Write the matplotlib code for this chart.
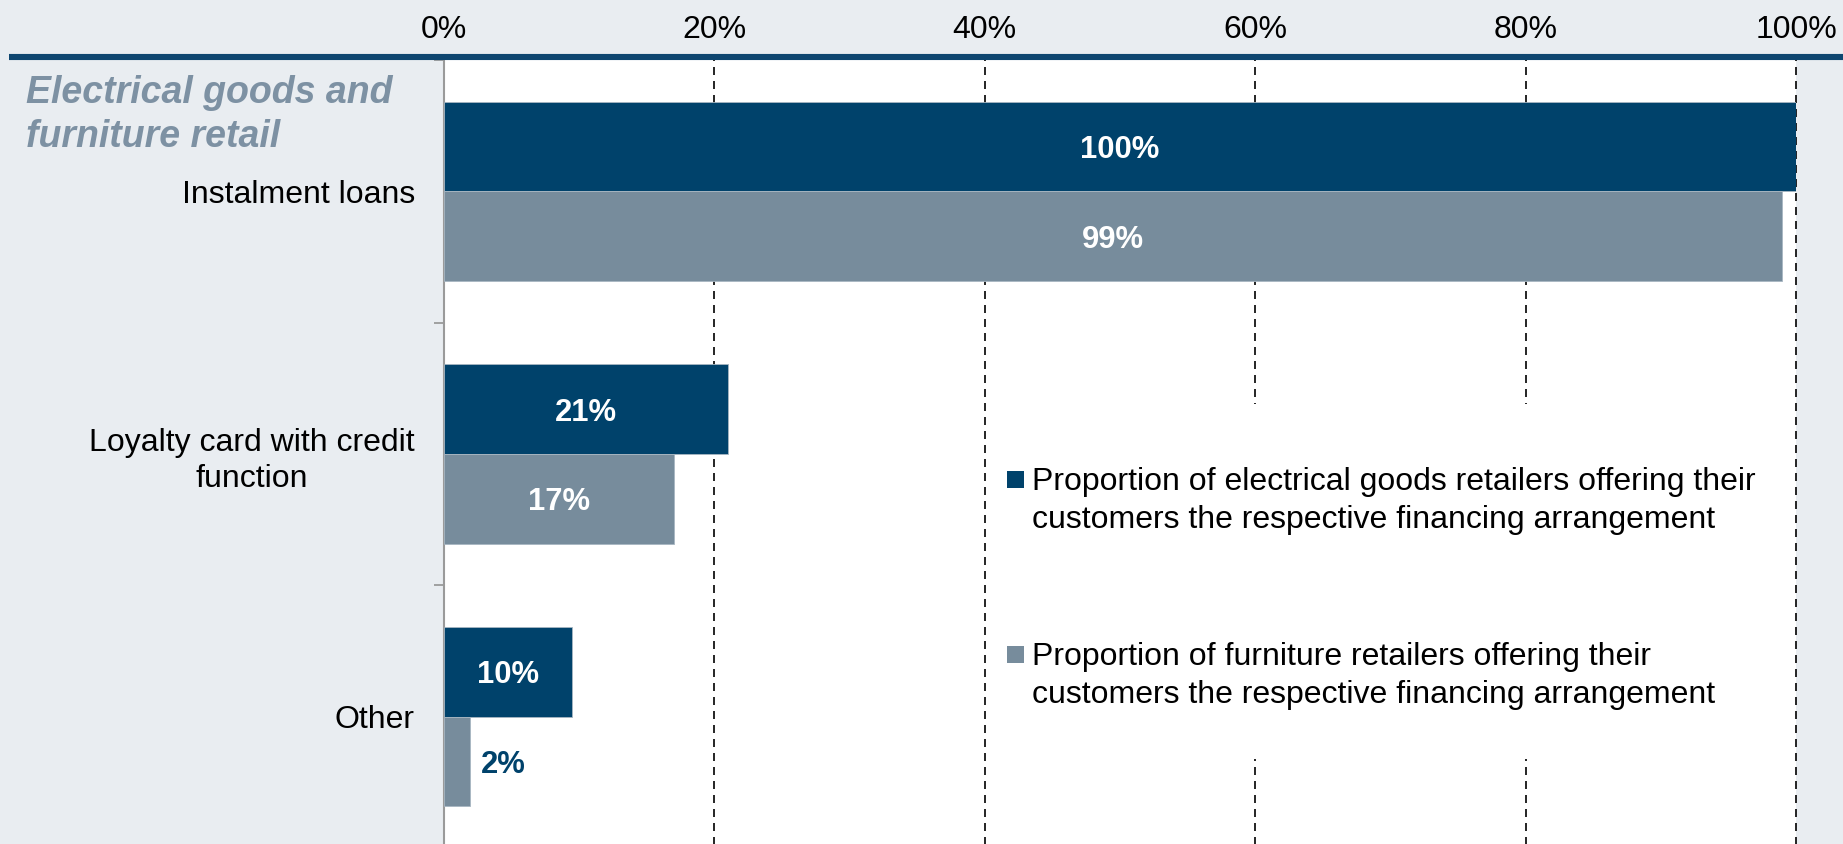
import matplotlib
matplotlib.use("Agg")
import matplotlib.pyplot as plt
from matplotlib.patches import Rectangle
from matplotlib.lines import Line2D
import numpy as np

# ---- data -------------------------------------------------------------
categories = ["Instalment loans", "Loyalty card with credit\nfunction", "Other"]
electrical_share = [100, 21, 9.5]      # % of electrical goods retailers
furniture_share = [99, 17, 1.9]        # % of furniture retailers
x_ticks = [0, 20, 40, 60, 80, 100]
x_tick_labels = ["0%", "20%", "40%", "60%", "80%", "100%"]
series_labels = [
    "Proportion of electrical goods retailers offering their\n"
    "customers the respective financing arrangement",
    "Proportion of furniture retailers offering their\n"
    "customers the respective financing arrangement",
]
heading = "Electrical goods and\nfurniture retail"

# ---- style ------------------------------------------------------------
DARK = "#00426B"
GREY = "#778C9C"
BG = "#E9EDF1"
HEAD_C = "#7D91A3"
EDGE = "#A7B6C2"

plt.rcParams["font.family"] = ["Liberation Sans", "DejaVu Sans"]

W, H = 1843, 844
fig = plt.figure(figsize=(W / 100, H / 100), dpi=100, facecolor=BG)


def fx(px):
    return px / W


def fy(py):
    return 1 - py / H


ax = fig.add_axes([fx(444), fy(848), fx(1796) - fx(444), fy(60) - fy(848)])
ax.set_facecolor("white")

y = np.arange(len(categories))
bh = 0.342
bars_e = ax.barh(y - bh / 2, electrical_share, height=bh, color=DARK,
                 edgecolor=EDGE, linewidth=0.6, zorder=3)
bars_f = ax.barh(y + bh / 2, furniture_share, height=bh, color=GREY,
                 edgecolor=EDGE, linewidth=0.6, zorder=3)

ax.set_xlim(0, 100)
ax.set_ylim(len(categories) - 0.5, -0.5)

# dashed vertical gridlines
ax.set_axisbelow(True)
ax.set_xticks(x_ticks)
ax.set_xticklabels(x_tick_labels)
ax.xaxis.grid(True, color="black", linewidth=1.2, linestyle=(0, (4.8, 3.6)))
for gl in ax.get_xgridlines():
    gl.set_clip_on(False)
ax.xaxis.tick_top()
ax.tick_params(axis="x", length=0, pad=11, labelsize=23, labelcolor="black")

ax.set_yticks(y)
ax.set_yticklabels(categories)
ax.set_yticks(np.arange(len(categories) + 1) - 0.5, minor=True)
ax.tick_params(axis="y", which="major", length=0, pad=21, labelsize=23)
ax.tick_params(axis="y", which="minor", length=7.5, width=1.3,
               color="#9A9A9A", direction="out")
for lbl in ax.get_yticklabels():
    lbl.set_multialignment("center")
    lbl.set_linespacing(1.27)

for side in ("top", "right", "bottom"):
    ax.spines[side].set_visible(False)
ax.spines["left"].set_color("#9A9A9A")
ax.spines["left"].set_linewidth(1.5)

# value labels
for bars, vals in ((bars_e, electrical_share), (bars_f, furniture_share)):
    for bar, v in zip(bars, vals):
        yc = bar.get_y() + bar.get_height() / 2
        txt = f"{v:.0f}%"
        if v >= 5:
            ax.text(v / 2, yc, txt, ha="center", va="center_baseline",
                    color="white", fontsize=22.3, fontweight="bold", zorder=4)
        else:
            ax.annotate(txt, (v, yc), xytext=(8, 0), textcoords="offset points",
                        ha="left", va="center_baseline", color=DARK,
                        fontsize=22.3, fontweight="bold", zorder=4)

# legend panel
ax.add_patch(Rectangle((41, 0.81), 58, 1.35, facecolor="white",
                       edgecolor="none", zorder=2))
for colour, label, cy in ((DARK, series_labels[0], 480),
                          (GREY, series_labels[1], 655)):
    fig.patches.append(Rectangle((fx(1007), fy(cy + 8)), fx(17), 17 / H,
                                 transform=fig.transFigure, facecolor=colour,
                                 edgecolor="none", zorder=5))
    # baseline of the second (last) line
    fig.text(fx(1032), fy(cy + 48), label, ha="left", va="baseline",
             fontsize=23, color="black", linespacing=1.36)

# heading on the left
fig.text(fx(26), fy(147), heading, ha="left", va="baseline",
         fontsize=27, fontweight="bold", fontstyle="italic", color=HEAD_C,
         linespacing=1.27)

# thick rule under the axis labels
fig.add_artist(Line2D([fx(9), 1.0], [fy(57), fy(57)], color="#0E4670",
                      linewidth=4.4, transform=fig.transFigure,
                      solid_capstyle="butt"))

fig.savefig("out.png", dpi=100, facecolor=BG)
